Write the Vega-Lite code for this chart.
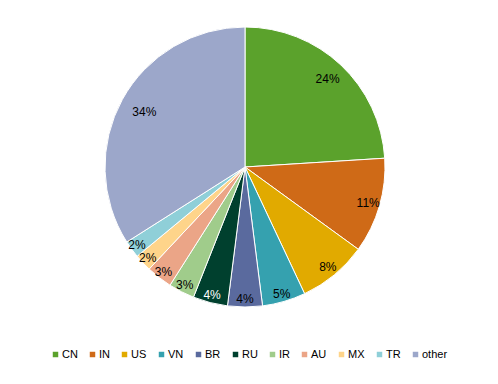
{
  "$schema": "https://vega.github.io/schema/vega-lite/v6.json",
  "width": 490,
  "height": 334,
  "padding": {"left": 0, "top": 0, "right": 8, "bottom": 50},
  "autosize": {"type": "none"},
  "background": "white",
  "config": {"view": {"stroke": null}, "font": "Liberation Sans"},
  "data": {
    "values": [
      {"k": 1, "country": "CN", "share": 24, "label": "24%"},
      {"k": 2, "country": "IN", "share": 11, "label": "11%"},
      {"k": 3, "country": "US", "share": 8, "label": "8%"},
      {"k": 4, "country": "VN", "share": 5, "label": "5%"},
      {"k": 5, "country": "BR", "share": 4, "label": "4%"},
      {"k": 6, "country": "RU", "share": 4, "label": "4%"},
      {"k": 7, "country": "IR", "share": 3, "label": "3%"},
      {"k": 8, "country": "AU", "share": 3, "label": "3%"},
      {"k": 9, "country": "MX", "share": 2, "label": "2%"},
      {"k": 10, "country": "TR", "share": 2, "label": "2%"},
      {"k": 11, "country": "other", "share": 34, "label": "34%"}
    ]
  },
  "encoding": {
    "theta": {"field": "share", "type": "quantitative", "stack": true},
    "order": {"field": "k", "type": "quantitative"}
  },
  "layer": [
    {
      "mark": {"type": "arc", "outerRadius": 140, "stroke": "white", "strokeWidth": 1},
      "encoding": {
        "color": {
          "field": "country",
          "type": "nominal",
          "sort": ["CN", "IN", "US", "VN", "BR", "RU", "IR", "AU", "MX", "TR", "other"],
          "scale": {
            "domain": ["CN", "IN", "US", "VN", "BR", "RU", "IR", "AU", "MX", "TR", "other"],
            "range": ["#5ba22c", "#cf6a17", "#e1aa00", "#35a1af", "#5a6a9e", "#00402e", "#a0cc8b", "#eba587", "#fed48a", "#8fcfd8", "#9ca7ca"]
          },
          "legend": {
            "title": null,
            "orient": "none",
            "direction": "horizontal",
            "legendX": 50,
            "legendY": 349,
            "symbolType": "square",
            "symbolSize": 30,
            "symbolStrokeWidth": 0,
            "labelFontSize": 11,
            "labelColor": "#000000",
            "labelFont": "Liberation Sans",
            "columnPadding": 9,
            "labelOffset": 1,
            "gridAlign": "none",
            "columns": 11
          }
        }
      }
    },
    {
      "mark": {"type": "text", "fontSize": 12, "font": "Liberation Sans"},
      "encoding": {
        "text": {"field": "label", "type": "nominal"},
        "radius": {
          "field": "share",
          "type": "quantitative",
          "scale": {"type": "threshold", "domain": [8, 20], "range": [130, 123, 119]},
          "legend": null
        },
        "color": {"condition": {"test": "datum.country === 'RU'", "value": "white"}, "value": "black"}
      }
    }
  ]
}
